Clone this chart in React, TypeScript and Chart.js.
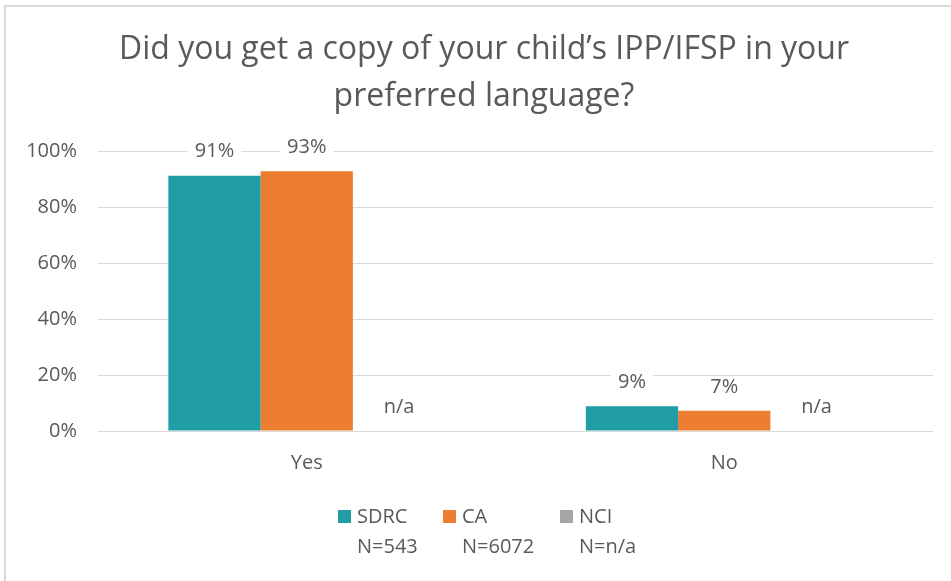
import React, { useEffect, useRef } from "react";
import { Chart, registerables } from "chart.js";

Chart.register(...registerables);

const titleLines = ["Did you get a copy of your child’s IPP/IFSP in your", "preferred language?"];
const categories = ["Yes", "No"];
const seriesNames = ["SDRC", "CA", "NCI"];
const seriesSizes = ["N=543", "N=6072", "N=n/a"];
const sdrcValues = [91.2, 8.8];
const caValues = [92.8, 7.2];
const nciValues: (number | null)[] = [null, null];
const yTicks = [0, 20, 40, 60, 80, 100];

const COLORS = ["#209DA6", "#ED7D31", "#A5A5A5"];
const TEXT = "#595959";
const FONT = "'Open Sans', sans-serif";

const decorPlugin = {
  id: "decor",
  beforeDraw(chart: any) {
    const ctx = chart.ctx;
    ctx.save();
    ctx.fillStyle = "#ffffff";
    ctx.fillRect(0, 0, chart.width, chart.height);
    ctx.fillStyle = "#d9d9d9";
    ctx.fillRect(4, 5, 2, chart.height - 5);
    ctx.fillRect(4, 5, chart.width - 4, 2);
    ctx.restore();
  },
  afterDatasetsDraw(chart: any) {
    const ctx = chart.ctx;
    const yScale = chart.scales.y;
    ctx.save();
    ctx.font = `20px ${FONT}`;
    ctx.textAlign = "center";
    ctx.textBaseline = "middle";
    chart.data.datasets.forEach((ds: any, di: number) => {
      const meta = chart.getDatasetMeta(di);
      meta.data.forEach((el: any, i: number) => {
        const v = ds.data[i];
        const label = v === null || v === undefined ? "n/a" : `${Math.round(v)}%`;
        const top = v === null || v === undefined ? yScale.getPixelForValue(0) : el.y;
        const cy = top - 24;
        const w = ctx.measureText(label).width;
        ctx.fillStyle = "#ffffff";
        ctx.fillRect(el.x - w / 2 - 7, cy - 8, w + 14, 16);
        ctx.fillStyle = TEXT;
        ctx.fillText(label, el.x, cy);
      });
    });
    ctx.restore();
  },
  afterDraw(chart: any) {
    const ctx = chart.ctx;
    ctx.save();
    ctx.fillStyle = TEXT;
    ctx.textAlign = "center";
    ctx.textBaseline = "middle";
    ctx.font = `32px ${FONT}`;
    titleLines.forEach((t, i) => ctx.fillText(t, 484, 50 + i * 47));
    // legend
    const xs = [338, 443, 560];
    ctx.font = `20px ${FONT}`;
    ctx.textAlign = "left";
    seriesNames.forEach((n, i) => {
      ctx.fillStyle = COLORS[i];
      ctx.fillRect(xs[i], 510, 13, 13);
      ctx.fillStyle = TEXT;
      ctx.fillText(n, xs[i] + 19, 517);
      ctx.fillText(seriesSizes[i], xs[i] + 19, 547);
    });
    ctx.restore();
  },
};

export default function App() {
  const ref = useRef<HTMLCanvasElement>(null);
  useEffect(() => {
    document.body.style.margin = "0";
    const chart = new Chart(ref.current!, {
      type: "bar",
      data: {
        labels: categories,
        datasets: [
          { label: seriesNames[0], data: sdrcValues, backgroundColor: COLORS[0] },
          { label: seriesNames[1], data: caValues, backgroundColor: COLORS[1] },
          { label: seriesNames[2], data: nciValues, backgroundColor: COLORS[2] },
        ],
      },
      options: {
        responsive: false,
        animation: false,
        layout: { padding: { top: 151, right: 18, left: 0, bottom: 0 } },
        datasets: { bar: { categoryPercentage: 0.663, barPercentage: 1 } },
        plugins: { legend: { display: false }, title: { display: false }, tooltip: { enabled: false } },
        scales: {
          x: {
            grid: { display: false, drawTicks: false },
            border: { display: false },
            ticks: { color: TEXT, font: { family: FONT, size: 20 }, padding: 20 },
            afterFit: (s: any) => { s.height = 150; },
          },
          y: {
            min: 0,
            max: 100,
            afterBuildTicks: (s: any) => { s.ticks = yTicks.map((v) => ({ value: v })); },
            grid: { color: "#d9d9d9", lineWidth: 1, drawTicks: false },
            border: { display: false },
            ticks: { color: TEXT, font: { family: FONT, size: 20 }, padding: 21, callback: (v: any) => `${v}%` },
            afterFit: (s: any) => { s.width = 98; },
          },
        },
      },
      plugins: [decorPlugin],
    });
    return () => chart.destroy();
  }, []);
  return (
    <div style={{ width: 951, height: 581 }}>
      <canvas ref={ref} width={951} height={581} />
    </div>
  );
}
